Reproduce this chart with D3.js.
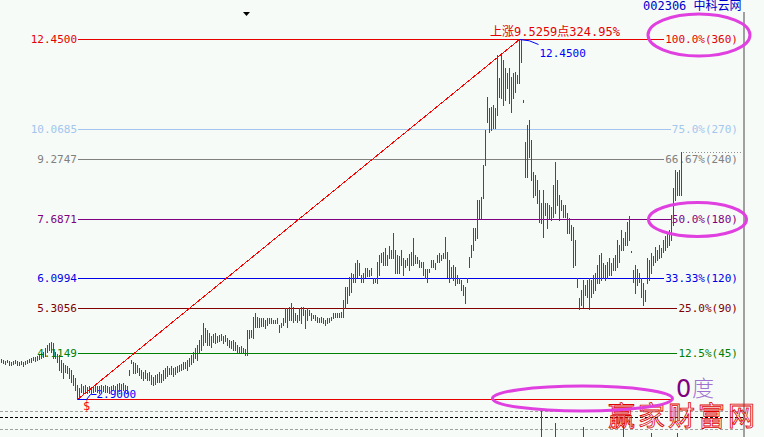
<!DOCTYPE html>
<html><head><meta charset="utf-8">
<script src="https://cdn.jsdelivr.net/npm/d3@7/dist/d3.min.js"></script>
<style>
html,body{margin:0;padding:0;background:#f6fbf7;}
svg{display:block;}
text{font-family:"DejaVu Sans Mono","Noto Sans CJK SC",monospace;}
</style></head><body>
<svg id="c" width="764" height="437"></svg>
<script>
// ---- data ----
const highs = [
3.96,3.94,3.91,3.94,3.91,3.88,3.91,3.94,3.91,3.88,
3.91,3.88,3.91,3.94,3.96,3.99,4.01,4.01,4.04,4.07,
4.12,4.15,4.25,4.33,4.39,4.41,4.39,4.15,4.09,4.07,
3.94,3.86,3.80,3.78,3.72,3.67,3.54,3.46,3.27,3.19,
3.30,3.24,3.27,3.22,3.24,3.22,3.24,3.27,3.24,3.24,
3.27,3.24,3.27,3.24,3.22,3.24,3.27,3.24,3.30,3.32,
3.30,3.32,3.27,3.24,3.67,3.94,3.88,3.86,3.80,3.72,
3.67,3.62,3.67,3.59,3.62,3.54,3.48,3.54,3.56,3.62,
3.56,3.67,3.72,3.78,3.72,3.78,3.72,3.75,3.78,3.80,
3.83,3.88,3.88,3.94,3.99,4.07,4.15,4.25,4.33,4.47,
4.60,4.92,4.78,4.73,4.65,4.57,4.62,4.65,4.57,4.60,
4.62,4.57,4.60,4.52,4.47,4.44,4.47,4.41,4.33,4.28,
4.31,4.25,4.23,4.73,4.73,4.73,5.08,5.18,5.08,5.05,
5.05,5.05,5.00,5.05,5.05,5.05,5.00,5.00,5.05,4.86,
4.92,5.05,5.31,5.31,5.34,5.45,5.34,5.18,5.13,5.31,
5.34,5.34,5.26,5.31,5.26,5.18,5.13,5.13,5.08,5.05,
5.08,5.05,5.00,5.05,5.05,5.08,5.18,5.18,5.18,5.18,
5.21,5.53,5.87,5.87,6.14,6.24,6.22,6.51,6.59,6.51,
6.19,6.24,6.38,6.38,6.32,6.38,6.11,6.11,6.53,6.72,
6.77,6.80,6.91,6.72,6.96,6.85,7.30,6.85,6.72,6.69,
6.85,6.64,6.59,6.64,6.75,6.80,7.17,6.72,6.67,6.59,
6.53,6.53,6.35,6.35,6.35,6.59,6.59,6.51,6.72,6.77,
6.72,6.77,7.20,6.80,6.59,6.40,6.45,6.40,6.19,6.11,
6.06,5.93,5.87,6.11,6.67,6.99,7.44,7.44,8.18,8.18,
8.26,9.11,10.04,10.91,10.62,10.65,10.70,10.62,12.03,11.42,
12.03,11.89,11.68,11.55,11.68,11.44,11.55,11.58,11.50,12.45,
12.42,10.83,9.72,10.17,10.30,9.77,8.92,8.84,8.71,8.45,
8.10,8.45,8.10,8.10,8.05,7.99,8.58,9.19,8.71,8.31,
8.18,8.05,8.05,7.83,7.70,7.52,7.46,7.12,6.11,5.58,
5.79,6.06,5.93,6.06,6.11,6.06,6.19,6.24,6.45,6.72,
6.77,6.51,6.45,6.53,6.64,6.51,6.64,6.72,7.12,6.99,
7.38,7.17,7.33,7.60,7.75,6.83,6.32,6.45,6.35,6.24,
6.11,5.98,5.79,6.64,6.59,6.77,6.69,6.93,6.85,6.99,
6.91,7.12,7.22,7.33,7.38,7.78,8.50,8.97,8.92,8.97,
9.45];
const lows = [
3.88,3.85,3.83,3.88,3.80,3.80,3.83,3.85,3.80,3.80,
3.83,3.78,3.83,3.85,3.88,3.88,3.94,3.91,3.94,3.96,
3.99,4.01,4.04,4.15,4.20,4.15,3.99,3.99,3.88,3.67,
3.62,3.46,3.62,3.59,3.46,3.35,3.27,3.14,2.90,2.98,
3.09,3.06,3.11,3.06,3.09,3.03,3.09,3.11,3.09,3.06,
3.11,3.11,3.09,3.09,3.06,3.11,3.14,3.09,3.11,3.11,
3.09,3.14,3.09,3.06,3.54,3.85,3.59,3.59,3.62,3.54,
3.46,3.40,3.46,3.40,3.40,3.30,3.27,3.30,3.35,3.35,
3.35,3.40,3.46,3.51,3.56,3.56,3.51,3.56,3.62,3.64,
3.67,3.70,3.72,3.67,3.78,3.83,3.88,3.99,3.94,4.15,
4.20,4.33,4.41,4.33,4.33,4.28,4.41,4.39,4.41,4.44,
4.47,4.39,4.44,4.33,4.28,4.25,4.20,4.20,4.15,4.15,
4.15,4.12,4.07,4.07,4.52,4.55,4.52,4.81,4.81,4.81,
4.84,4.84,4.78,4.86,4.92,4.92,4.92,4.92,4.92,4.68,
4.81,4.86,4.94,4.81,5.00,5.00,4.94,5.00,4.94,5.00,
4.92,5.13,4.78,5.00,5.13,5.00,5.05,5.00,4.94,4.94,
4.94,4.92,4.86,4.92,4.94,5.00,5.05,5.08,5.08,5.08,
5.08,5.08,5.31,5.45,5.66,5.74,6.00,6.00,6.14,6.19,
6.00,6.00,6.14,6.16,6.16,6.19,5.98,6.00,5.98,6.19,
6.53,6.45,6.45,6.45,6.64,6.64,6.64,6.24,6.24,6.24,
6.45,6.19,6.40,6.45,6.32,6.45,6.45,6.51,6.51,6.40,
6.40,6.19,6.11,6.00,6.27,6.40,6.40,6.35,6.53,6.53,
6.59,6.64,6.64,6.14,6.00,6.11,6.06,5.93,5.98,5.98,
5.79,5.66,5.45,6.00,6.40,6.67,6.85,7.12,7.17,7.70,
7.70,8.23,9.11,10.25,9.99,10.04,10.09,10.09,10.43,10.91,
10.88,10.70,10.83,11.15,10.75,10.51,10.88,11.04,11.28,11.28,
11.84,10.78,8.79,8.79,9.32,8.71,8.26,8.31,8.10,7.60,
7.57,7.20,7.78,7.44,7.70,7.65,7.73,7.83,8.05,7.65,
7.91,7.73,7.73,7.30,7.30,7.12,6.40,6.45,5.87,5.29,
5.39,5.34,5.66,5.61,5.29,5.61,5.71,5.79,5.98,5.98,
6.06,6.11,6.06,6.11,6.19,6.19,6.32,6.32,6.40,6.53,
6.85,6.85,6.99,6.99,7.12,6.80,6.00,5.71,5.93,6.00,
5.61,5.39,5.50,5.98,6.06,6.24,6.45,6.53,6.59,6.64,
6.67,6.80,6.85,6.93,6.99,7.12,7.52,8.18,8.31,8.31,
8.31];
const barDirs = (
"GRGRGRGRGG"+"RGRRRRRGRR"+"RGRRRRGGRG"+"GGRGRGGGRR"+"RGRGRGRGRR"+
"GRGRRGRRRR"+"RRRGRRGGRG"+"GRGRGGGRGR"+"GRRRGRGRRR"+"RRRRRRRRRR"+
"RRGGRGRGRG"+"RGRGGRRGGR"+"RRGRGRRRGG"+"RGGRGRRRRG"+"RRRGRRRGGR"+
"RRGRRGRGGG"+"RGGRRRGGRR"+"GRRRRRGRRR"+"GRRRRGGGRR"+"RGRRRRGRRR"+
"GRRRRRGRGG"+"RGGGRRGRRR"+"GRRGGRGGGR"+"GGGRRRGGRR"+"RRRGGGRRRR"+
"RRGGGRGRRR"+"GGRRGGGGGG"+"GRGRGGRRRG"+"RRRGGGGGGG"+"GRGGRRRGRR"+
"RGRGRRRRRR"+"RRRRRGGRRG"+"GGRRRRGRRR"+"RRGRRRRGRG"+"R").split("");

const levelValues = [12.45, 10.0685, 9.2747, 7.6871, 6.0994, 5.3056, 4.1149, 2.90];
const levelLeft   = ["12.4500","10.0685","9.2747","7.6871","6.0994","5.3056","4.1149",""];
const levelRight  = ["100.0%(360)","75.0%(270)","66.67%(240)","50.0%(180)","33.33%(120)","25.0%(90)","12.5%(45)",""];
const levelColors = ["#e60000","#a4c6ee","#808080","#800080","#0000e6","#800000","#008000","#e60000"];

const volIndex = [270, 277, 291, 311, 325, 338];
const volValue = [45, 38.5, 36.5, 36.5, 33.5, 33.5];
const volDirs  = ["R","R","R","R","R","G"];
const volGrid  = [44.5, 41.5, 35.5];
const volGridColors = ["#a0a0a0","#000000","#a0a0a0"];

const titleText = "002306 中科云网";
const riseText = "上涨9.5259点324.95%";

// ---- drawing ----
const W = 764, H = 437;
const RED = "#ff0000", GREEN = "#008000";
const svg = d3.select("#c");
svg.append("rect").attr("width", W).attr("height", H).attr("fill", "#f6fbf7");

const N = highs.length;
const x = d3.scaleLinear().domain([0, N - 1]).range([1, 1 + 2 * (N - 1)]);
const y = d3.scaleLinear().domain([2.90, 12.45]).range([399, 39]);
const vy = d3.scaleLinear().domain([0, 50]).range([500, 400]);
const cr = v => Math.round(v) + 0.5;

// volume-panel dashed lines
svg.append("g").selectAll("line").data(volGrid).join("line")
  .attr("x1", 0).attr("x2", 744)
  .attr("y1", d => cr(vy(d))).attr("y2", d => cr(vy(d)))
  .attr("stroke", (d, i) => volGridColors[i]).attr("stroke-width", 1)
  .attr("stroke-dasharray", "3,2").attr("shape-rendering", "crispEdges");

// volume tops, split by colour
const volIdxAll = d3.range(volIndex.length);
["R", "G"].forEach(c => {
  const ids = volIdxAll.filter(k => volDirs[k] === c);
  svg.append("g").attr("fill", c === "R" ? RED : GREEN)
    .selectAll("rect").data(ids).join("rect")
    .attr("x", k => Math.round(x(volIndex[k]))).attr("width", 1)
    .attr("y", k => Math.round(vy(volValue[k]))).attr("height", k => H - Math.round(vy(volValue[k])));
});

// level lines + labels
const lg = svg.append("g");
levelValues.forEach((v, i) => {
  const yy = cr(y(v));
  let xEnd = 673;
  if (levelRight[i]) {
    const t = lg.append("text").attr("x", 738).attr("y", yy).attr("dy", "0.35em")
      .attr("text-anchor", "end").attr("font-size", 11).attr("fill", levelColors[i])
      .text(levelRight[i]);
    xEnd = 738 - t.node().getComputedTextLength() - 1;
  }
  lg.append("line").attr("x1", 78).attr("x2", xEnd).attr("y1", yy).attr("y2", yy)
    .attr("stroke", levelColors[i]).attr("stroke-width", 1).attr("shape-rendering", "crispEdges");
  if (levelLeft[i]) {
    lg.append("text").attr("x", 77).attr("y", yy).attr("dy", "0.35em")
      .attr("text-anchor", "end").attr("font-size", 11).attr("fill", levelColors[i])
      .text(levelLeft[i]);
  }
});

// dotted last-price line
const last = N - 1;
svg.append("line").attr("x1", Math.round(x(last)) + 2).attr("x2", 743)
  .attr("y1", cr(y(highs[last]))).attr("y2", cr(y(highs[last])))
  .attr("stroke", "#909090").attr("stroke-dasharray", "1,2").attr("shape-rendering", "crispEdges");

// annotation 2.9000
const iMin = d3.minIndex(lows), iMax = d3.maxIndex(highs);
const pMin = [Math.round(x(iMin)) + 0.5, cr(y(lows[iMin]))];
const pMax = [Math.round(x(iMax)) + 0.5, cr(y(highs[iMax]))];
svg.append("path")
  .attr("d", `M${pMin[0]},${pMin[1]} L${pMin[0]+9},${pMin[1]} L${pMin[0]+13},${pMin[1]-5} L${pMin[0]+19},${pMin[1]-5}`)
  .attr("fill", "none").attr("stroke", "#0000ff").attr("stroke-width", 1);
svg.append("text").attr("x", pMin[0] + 19).attr("y", pMin[1] - 2).attr("font-size", 11)
  .attr("fill", "#0000ff").text(d3.format(".4f")(lows[iMin]));

// price bars (high-low), one group per colour
const allIdx = d3.range(N);
["G", "R"].forEach(c => {
  const ids = allIdx.filter(i => barDirs[i] === c);
  svg.append("g").attr("fill", c === "R" ? RED : GREEN)
    .selectAll("rect").data(ids).join("rect")
    .attr("x", i => Math.round(x(i))).attr("width", 1)
    .attr("y", i => Math.round(y(highs[i])))
    .attr("height", i => Math.max(1, Math.round(y(lows[i])) - Math.round(y(highs[i])) + 1));
});

// diagonal red line from low to high
svg.append("line").attr("x1", pMin[0]).attr("y1", pMin[1]).attr("x2", pMax[0]).attr("y2", pMax[1])
  .attr("stroke", RED).attr("stroke-width", 1).attr("shape-rendering", "crispEdges");

// peak annotation
svg.append("path")
  .attr("d", `M${pMax[0]},${pMax[1]} Q${pMax[0]+10},${pMax[1]} ${pMax[0]+19},${pMax[1]+5}`)
  .attr("fill", "none").attr("stroke", "#0000ff").attr("stroke-width", 1);
svg.append("text").attr("x", pMax[0] + 20).attr("y", pMax[1] + 17).attr("font-size", 11)
  .attr("fill", "#0000ff").text(d3.format(".4f")(highs[iMax]));
svg.append("text").attr("x", 490).attr("y", 36).attr("font-size", 12)
  .attr("fill", "#e60000").text(riseText);

// $ marker under the low
svg.append("text").attr("x", pMin[0] + 9).attr("y", 410).attr("text-anchor", "middle")
  .attr("font-size", 12).attr("fill", RED).text("$");

// small top marker
svg.append("path").attr("d", "M243,12 L250,12 L246.5,16 Z").attr("fill", "#000");

// right border
svg.append("rect").attr("x", 743).attr("y", 12).attr("width", 2).attr("height", H - 12).attr("fill", "#a0a0a0");

// title
svg.append("text").attr("x", 643).attr("y", 10).attr("font-size", 12)
  .attr("fill", "#0000cc").text(titleText);

// 0度
svg.append("text").attr("x", 676).attr("y", 397).attr("font-size", 24)
  .style("font-family", "DejaVu Sans").attr("fill", "#800080").text("0");
svg.append("text").attr("x", 692).attr("y", 396).attr("font-size", 22)
  .style("font-family", "Noto Sans CJK SC").attr("fill", "#a070d0").style("font-weight", 300).text("度");

// watermark
svg.append("text").attr("x", 608).attr("y", 426).attr("font-size", 27)
  .style("font-family", "Noto Sans CJK SC").attr("letter-spacing", 3)
  .attr("fill", "none").attr("stroke", "#e00000").attr("stroke-width", 0.8)
  .text("赢家财富网");

// magenta ellipses
const ell = [[699, 35, 51, 21], [697.5, 219.5, 49, 17], [582.5, 398.5, 90, 12.5]];
svg.append("g").selectAll("ellipse").data(ell).join("ellipse")
  .attr("cx", d => d[0]).attr("cy", d => d[1]).attr("rx", d => d[2]).attr("ry", d => d[3])
  .attr("fill", "none").attr("stroke", "#e040e0").attr("stroke-width", 3);
</script>
</body></html>
